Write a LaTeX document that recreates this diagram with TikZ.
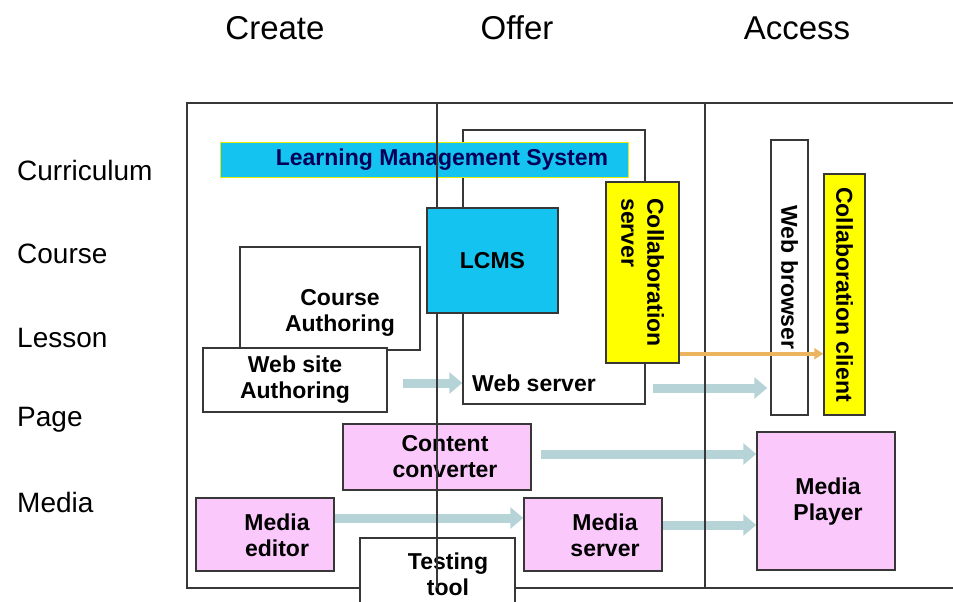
\documentclass[tikz,border=0pt]{standalone}
\usepackage{fontspec}
\setmainfont{Liberation Sans}
\usetikzlibrary{arrows.meta}

\definecolor{lmscyan}{RGB}{20,195,240}
\definecolor{mediapink}{RGB}{250,200,250}
\definecolor{collabyellow}{RGB}{255,255,0}
\definecolor{flowgrey}{RGB}{182,212,215}
\definecolor{hotorange}{RGB}{235,180,95}
\definecolor{frameline}{RGB}{55,55,55}

\tikzset{
    box/.style={draw=frameline, line width=1.5pt, inner sep=0pt, align=center,
        font=\fontsize{23}{26}\selectfont\bfseries},
    boxtext/.style={align=center, inner sep=0pt, font=\fontsize{23}{26}\selectfont\bfseries},
    frame/.style={draw=frameline, line width=1.5pt},
    flow/.style={draw=flowgrey, line width=9pt, -{Triangle[length=13pt,width=21pt]}},
    hot/.style={draw=hotorange, line width=3.5pt, -{Triangle[length=9pt,width=11pt]}},
    header/.style={font=\fontsize{33}{36}\selectfont},
    rowlabel/.style={anchor=west, inner sep=0pt, font=\fontsize{28}{30}\selectfont},
}

\begin{document}
\begin{tikzpicture}[x=1pt, y=-1pt]
    \useasboundingbox (0,0) rectangle (953,602);

    \node[header] (create) at (275,28) {Create};
    \node[header] (offer) at (517,28) {Offer};
    \node[header] (access) at (797,28) {Access};

    \node[rowlabel] (curriculum) at (17,170) {Curriculum};
    \node[rowlabel] (course) at (17,254) {Course};
    \node[rowlabel] (lesson) at (17,338) {Lesson};
    \node[rowlabel] (page) at (17,420) {Page};
    \node[rowlabel] (media) at (17,502) {Media};

    \draw[frame] (953,103) -- (187,103) -- (187,588) -- (953,588);

    \node[box, fill=white, minimum width=182, minimum height=274] (webserver) at (554,267) {};
    \node[boxtext] (webserverlabel) at (534,383) {Web server};

    \node[box, draw=yellow!60!lime, line width=1pt, fill=lmscyan, minimum width=408, minimum height=35] (lms) at (424,159.5) {};
    \node[boxtext, text=blue!35!black] (lmslabel) at (442,160) {Learning Management System};

    \node[box, fill=white, minimum width=180, minimum height=103] (courseauthoring) at (330,298.5) {};
    \node[boxtext] (courselabel) at (340,313) {Course\\Authoring};
    \node[box, fill=white, minimum width=184, minimum height=64] (website) at (295,380) {Web site\\Authoring};

    \node[box, fill=mediapink, minimum width=188, minimum height=66] (converter) at (437,457) {};
    \node[boxtext] (converterlabel) at (445,457) {Content\\converter};
    \node[box, fill=mediapink, minimum width=138, minimum height=73] (editor) at (265,534.5) {};
    \node[boxtext] (editorlabel) at (277,535) {Media\\editor};
    \node[box, fill=mediapink, minimum width=138, minimum height=73] (mediaserver) at (593,534.5) {};
    \node[boxtext] (mediaserverlabel) at (605,535) {Media\\server};
    \node[box, fill=white, minimum width=155, minimum height=80] (testing) at (437.5,578) {};
    \node[boxtext] (testinglabel) at (448,574) {Testing\\tool};

    \node[box, fill=white, rotate=-90, minimum width=275, minimum height=37] (browser) at (789.5,277.5) {Web browser};
    \node[box, fill=collabyellow, rotate=-90, minimum width=241, minimum height=41] (collabclient) at (844.5,294.5) {Collaboration client};
    \node[box, fill=mediapink, minimum width=138, minimum height=138] (player) at (826,501) {};
    \node[boxtext] (playerlabel) at (828,502) {Media\\Player};

    \draw[flow] ([xshift=15pt,yshift=-3pt]website.east) -- ([yshift=-3pt]webserver.west |- website.east);
    \draw[flow] ([xshift=7pt]webserver.east |- 0,388) -- ([xshift=-3pt]browser.south |- 0,388);
    \draw[flow] ([xshift=9pt,yshift=3pt]converter.east) -- ([yshift=3pt]player.west |- converter.east);
    \draw[flow] (editor.east |- 0,518) -- (mediaserver.west |- 0,518);
    \draw[flow] (mediaserver.east |- 0,525) -- (player.west |- 0,525);

    \draw[frame] (437,103) -- (437,588);
    \draw[frame] (705,103) -- (705,588);

    \node[box, fill=lmscyan, minimum width=131, minimum height=105] (lcms) at (492.5,260.5) {LCMS};
    \node[box, fill=collabyellow, rotate=-90, align=left, minimum width=181, minimum height=73] (collabserver) at (642.5,272.5) {Collaboration\\server};

    \coordinate (hotstart) at ([yshift=10pt]collabserver.north east);
    \draw[hot] (hotstart) -- (hotstart -| collabclient.south);
\end{tikzpicture}
\end{document}
